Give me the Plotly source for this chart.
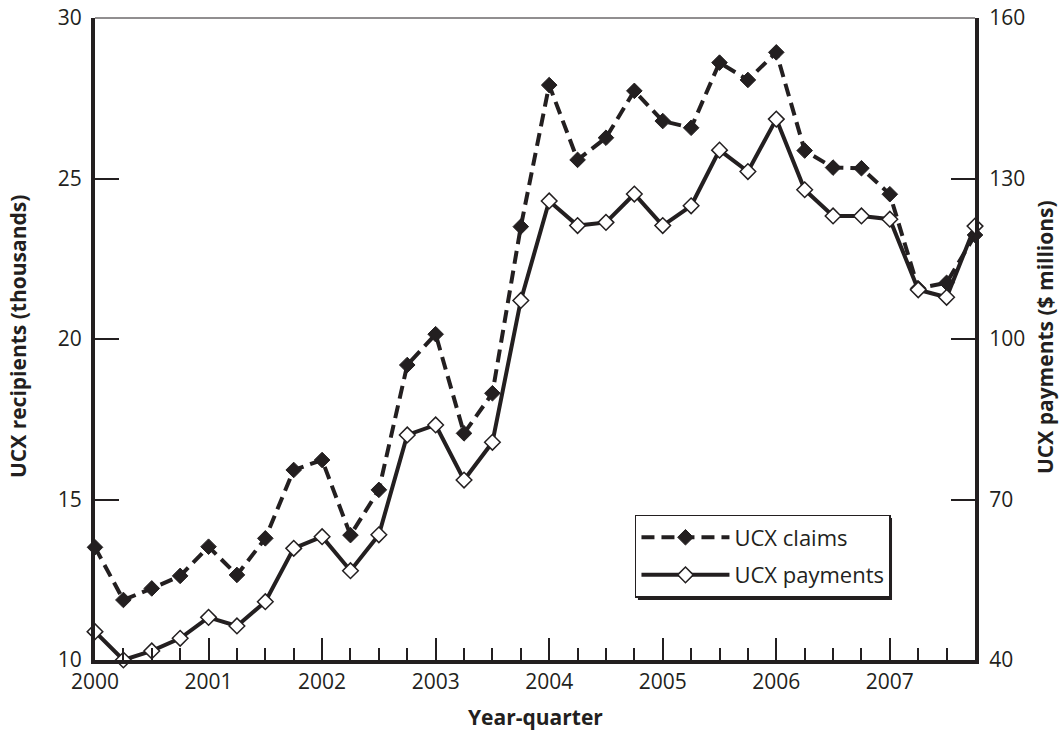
import plotly.graph_objects as go

years = list(range(2000, 2008))
quarters = [1, 2, 3, 4]
quarter_x = [y + (q - 1) / 4 for y in years for q in quarters]

claims = [13.51, 11.87, 12.23, 12.62, 13.53, 12.65, 13.79, 15.92,
          16.23, 13.89, 15.30, 19.19, 20.15, 17.06, 18.31, 23.50,
          27.91, 25.58, 26.27, 27.73, 26.79, 26.58, 28.61, 28.07,
          28.93, 25.87, 25.34, 25.32, 24.51, 21.58, 21.75, 23.24]
payments = [45.3, 40.0, 41.7, 44.05, 47.97, 46.36, 50.9, 60.87,
            63.05, 56.7, 63.4, 82.06, 83.93, 73.64, 80.69, 107.2,
            125.8, 121.2, 121.8, 127.1, 121.2, 124.9, 135.3, 131.3,
            141.1, 127.9, 123.0, 123.0, 122.4, 109.2, 107.8, 121.1]

left_ticks = [10, 15, 20, 25, 30]
right_ticks = [40, 70, 100, 130, 160]

FONT = "Open Sans"
INK = "#231f20"

fig = go.Figure()
fig.add_trace(go.Scatter(
    x=quarter_x, y=claims, name="UCX claims", mode="lines+markers",
    legendgroup="a",
    line=dict(color=INK, width=4, dash="13px,7px"),
    marker=dict(symbol="diamond", size=12, color=INK, line=dict(color=INK, width=1)),
    cliponaxis=False, yaxis="y"))
fig.add_trace(go.Scatter(
    x=quarter_x, y=payments, name="UCX payments", mode="lines+markers",
    legendgroup="b",
    line=dict(color=INK, width=4),
    marker=dict(symbol="diamond", size=12, color="white", line=dict(color=INK, width=1.5)),
    cliponaxis=False, yaxis="y2"))

fig.update_layout(
    width=1060, height=734,
    margin=dict(l=95, r=85, t=18, b=74, autoexpand=False),
    paper_bgcolor="white", plot_bgcolor="white",
    font=dict(family=FONT, size=21, color=INK),
    showlegend=True,
    legend=dict(x=0.6136, y=0.2259, xanchor="left", yanchor="top",
                bgcolor="white", bordercolor=INK, borderwidth=1.5,
                font=dict(size=22), itemwidth=88, tracegroupgap=6),
    xaxis=dict(range=[2000, 2007.75], tickvals=years, ticktext=[str(y) for y in years],
               ticks="inside", ticklen=22, tickwidth=1.5, tickcolor=INK, automargin=False,
               minor=dict(dtick=0.25, tick0=2000, ticks="inside", ticklen=12, tickwidth=1.5, tickcolor=INK),
               showline=True, linewidth=4, linecolor=INK, showgrid=False, zeroline=False),
    yaxis=dict(range=[10, 30], tickvals=left_ticks, ticks="inside", ticklen=24, tickwidth=1.5,
               tickcolor=INK, showline=True, linewidth=4, linecolor=INK, showgrid=False,
               zeroline=False, ticklabelstandoff=5, automargin=False),
    yaxis2=dict(range=[40, 160], tickvals=right_ticks, ticks="inside", ticklen=24, tickwidth=1.5,
                tickcolor=INK, showline=True, linewidth=4, linecolor=INK, showgrid=False,
                zeroline=False, overlaying="y", side="right", ticklabelstandoff=6, automargin=False),
    shapes=[
        dict(type="line", xref="paper", yref="paper", x0=0, x1=1, y0=1, y1=1,
             line=dict(color=INK, width=1)),
        dict(type="rect", xref="paper", yref="paper", x0=0.6170, x1=0.9057,
             y0=0.0935, y1=0.2212, fillcolor=INK, line=dict(width=0), layer="above"),
    ],
    annotations=[
        dict(text="<b>UCX recipients (thousands)</b>", xref="paper", yref="paper",
             x=-0.0875, y=0.503, textangle=-90, showarrow=False, font=dict(size=21),
             xanchor="center", yanchor="middle"),
        dict(text="<b>UCX payments ($ millions)</b>", xref="paper", yref="paper",
             x=1.0795, y=0.503, textangle=-90, showarrow=False, font=dict(size=21),
             xanchor="center", yanchor="middle"),
        dict(text="<b>Year-quarter</b>", xref="paper", yref="paper",
             x=0.5, y=-0.089, showarrow=False, font=dict(size=21),
             xanchor="center", yanchor="middle"),
    ],
)

fig.write_html("out.html", config={"displayModeBar": False},
               post_script="document.body.style.margin='0px';")
